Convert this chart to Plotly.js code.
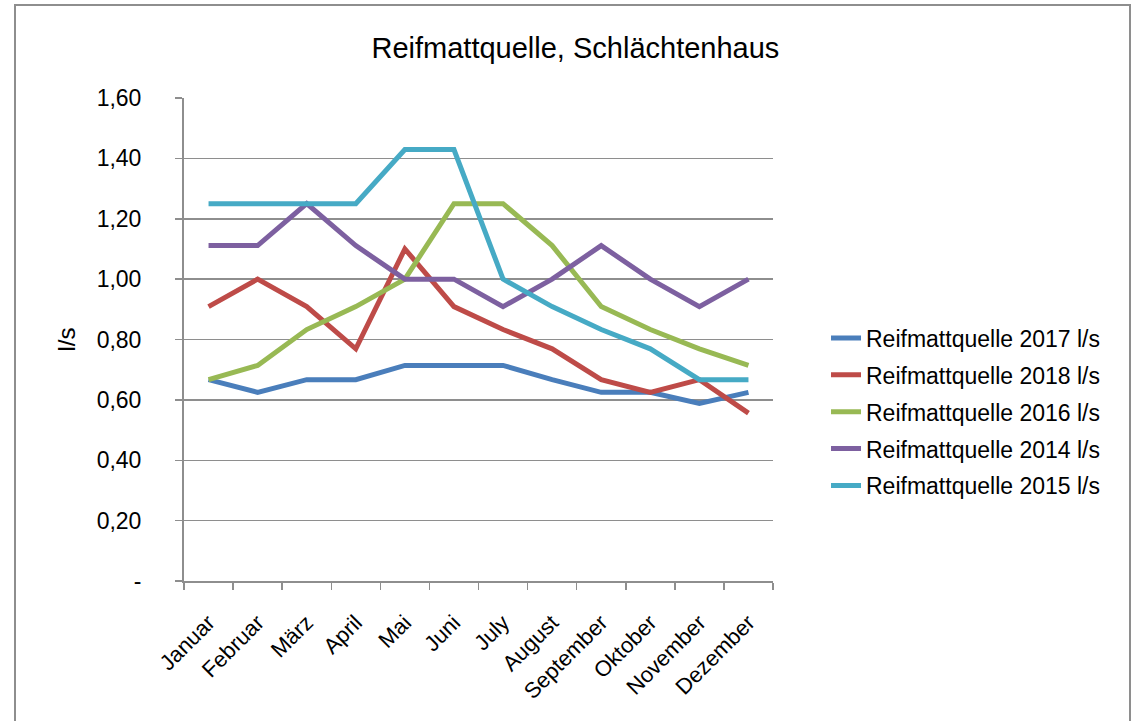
<!DOCTYPE html>
<html>
<head>
<meta charset="utf-8">
<script src="https://cdn.plot.ly/plotly-3.0.1.min.js"></script>
<style>
  html, body { margin: 0; padding: 0; background: #ffffff; overflow: hidden; }
  #wrap { position: relative; width: 1135px; height: 721px; }
  #chart { width: 1135px; height: 721px; }
  #frame { position: absolute; left: 14px; top: 4px; width: 1117px; height: 760px;
           border: 2px solid #8e8e8e; box-sizing: border-box; pointer-events: none; }
</style>
</head>
<body>
<div id="wrap">
  <div id="chart"></div>
  <div id="frame"></div>
</div>
<script>
const months = ["Januar","Februar","März","April","Mai","Juni","July","August","September","Oktober","November","Dezember"];

const s2017 = [0.667,0.625,0.667,0.667,0.714,0.714,0.714,0.667,0.625,0.625,0.588,0.625];
const s2018 = [0.909,1.000,0.909,0.769,1.100,0.909,0.833,0.769,0.667,0.625,0.667,0.556];
const s2016 = [0.667,0.714,0.833,0.909,1.000,1.250,1.250,1.111,0.909,0.833,0.769,0.714];
const s2014 = [1.111,1.111,1.250,1.111,1.000,1.000,0.909,1.000,1.111,1.000,0.909,1.000];
const s2015 = [1.250,1.250,1.250,1.250,1.429,1.429,1.000,0.909,0.833,0.769,0.667,0.667];

const seriesNames = ["Reifmattquelle 2017 l/s","Reifmattquelle 2018 l/s","Reifmattquelle 2016 l/s","Reifmattquelle 2014 l/s","Reifmattquelle 2015 l/s"];
const seriesData = [s2017, s2018, s2016, s2014, s2015];
const seriesColors = ["#4a7ebb","#be4b48","#98b954","#7d60a0","#46aac5"];

const yTickVals = [0,0.2,0.4,0.6,0.8,1.0,1.2,1.4,1.6];
const yTickText = ["-","0,20","0,40","0,60","0,80","1,00","1,20","1,40","1,60"];

const FONT = "'Liberation Sans', Arial, sans-serif";

const traces = seriesData.map((d, i) => ({
  type: "scatter",
  mode: "lines",
  x: months,
  y: d,
  name: seriesNames[i],
  legendgroup: "g" + i,
  line: { color: seriesColors[i], width: 5 },
  hoverinfo: "skip"
}));

const layout = {
  width: 1135,
  height: 721,
  margin: { l: 184, r: 362, t: 98, b: 140 },
  paper_bgcolor: "#ffffff",
  plot_bgcolor: "#ffffff",
  font: { family: FONT, color: "#000000", size: 23 },
  title: {
    text: "Reifmattquelle, Schlächtenhaus",
    font: { family: FONT, size: 29, color: "#000000" },
    xref: "container", x: 0.507,
    yref: "container", y: 0.933, yanchor: "middle"
  },
  xaxis: {
    type: "category",
    range: [-0.5, 11.5],
    tickson: "boundaries",
    ticks: "outside",
    ticklen: 7,
    tickwidth: 1.5,
    tickcolor: "#8e8e8e",
    showline: true,
    linecolor: "#8e8e8e",
    linewidth: 2,
    showgrid: false,
    zeroline: false,
    tickangle: -45,
    ticklabelstandoff: 18,
    tickfont: { family: FONT, size: 22, color: "#000000" },
    fixedrange: true
  },
  yaxis: {
    range: [0, 1.6],
    tickvals: yTickVals,
    ticktext: yTickText,
    ticks: "outside",
    ticklen: 7,
    tickwidth: 1.5,
    tickcolor: "#8e8e8e",
    showline: true,
    linecolor: "#8e8e8e",
    linewidth: 2,
    showgrid: true,
    gridcolor: "#8e8e8e",
    gridwidth: 1.5,
    zeroline: false,
    ticklabelstandoff: 29,
    tickfont: { family: FONT, size: 23, color: "#000000" },
    title: { text: "l/s", font: { family: FONT, size: 24, color: "#000000" }, standoff: 14 },
    fixedrange: true
  },
  showlegend: true,
  legend: {
    x: 1.09, xanchor: "left",
    y: 0.35, yanchor: "middle",
    font: { family: FONT, size: 23, color: "#000000" },
    bgcolor: "rgba(0,0,0,0)",
    borderwidth: 0,
    tracegroupgap: 4,
    traceorder: "grouped"
  }
};

Plotly.newPlot("chart", traces, layout, { displayModeBar: false, staticPlot: true });
</script>
</body>
</html>
